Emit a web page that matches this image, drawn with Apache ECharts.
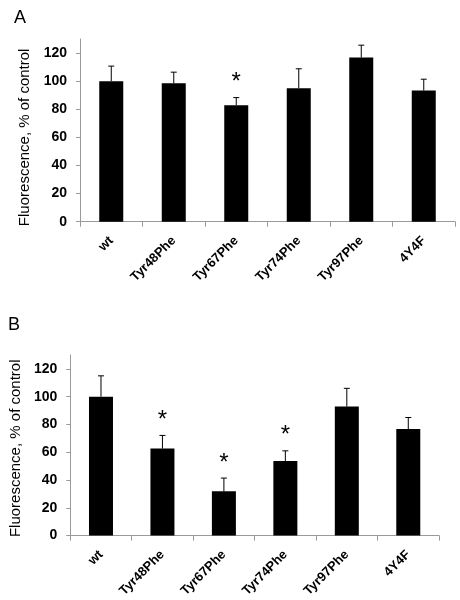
<!DOCTYPE html>
<html>
<head>
<meta charset="utf-8">
<script src="https://cdn.jsdelivr.net/npm/echarts@6/dist/echarts.min.js"></script>
<style>
html,body{margin:0;padding:0;background:#fff;}
#chart{width:460px;height:600px;}
</style>
</head>
<body>
<div id="chart"></div>
<script>
const categories = ['wt', 'Tyr48Phe', 'Tyr67Phe', 'Tyr74Phe', 'Tyr97Phe', '4Y4F'];
const valuesA = [100, 98.6, 82.9, 95, 116.8, 93.3];
const errorsA = [10.7, 7.8, 5.4, 13.8, 8.8, 8.1];
const starsA = [0, 0, 1, 0, 0, 0];
const valuesB = [100, 62.6, 31.9, 53.6, 92.9, 76.7];
const errorsB = [15, 9.5, 9.5, 7.4, 13.1, 8.3];
const starsB = [0, 1, 1, 1, 0, 0];
const yTicks = [0, 20, 40, 60, 80, 100, 120];
const panelLabels = ['A', 'B'];
const yAxisName = 'Fluorescence, % of control';

const FONT = 'Liberation Sans, Arial, sans-serif';
const AXIS_COLOR = '#9a9a9a';

function makeX(gridIndex) {
  return {
    type: 'category', gridIndex, data: categories,
    axisLine: {lineStyle: {color: AXIS_COLOR, width: 1}},
    axisTick: {show: true, length: 5, alignWithLabel: false, lineStyle: {color: AXIS_COLOR}},
    axisLabel: {interval: 0, rotate: 45, margin: 17, color: '#000', fontWeight: 'bold', fontSize: 13, fontFamily: FONT},
    splitLine: {show: false}
  };
}
function makeY(gridIndex, pad) {
  return {
    type: 'value', gridIndex, min: 0, max: 130, interval: 10,
    name: yAxisName, nameLocation: 'middle', nameGap: 45,
    nameTextStyle: {fontSize: 15, color: '#000', fontFamily: FONT, padding: [0, pad, 0, 0]},
    axisLine: {show: true, lineStyle: {color: AXIS_COLOR, width: 1}},
    axisTick: {show: true, length: 4, customValues: yTicks, lineStyle: {color: AXIS_COLOR}},
    axisLabel: {customValues: yTicks, margin: 13, color: '#000', fontWeight: 'bold', fontSize: 14, fontFamily: FONT},
    splitLine: {show: false}
  };
}
function errData(vals, errs, stars) {
  return categories.map((c, i) => [i, vals[i], errs[i], stars[i]]);
}
function errRender(params, api) {
  const x = api.value(0), v = api.value(1), e = api.value(2), s = api.value(3);
  const base = api.coord([x, v]);
  const top = api.coord([x, v + e]);
  const children = [
    {type: 'line', shape: {x1: base[0], y1: base[1], x2: top[0], y2: top[1]}, style: {stroke: '#000', lineWidth: 1}},
    {type: 'line', shape: {x1: top[0] - 3, y1: top[1], x2: top[0] + 3, y2: top[1]}, style: {stroke: '#000', lineWidth: 1}}
  ];
  if (s) {
    children.push({type: 'text', x: top[0], y: top[1] - 15,
      style: {text: '*', fontSize: 24, fontFamily: FONT, fill: '#000', align: 'center', verticalAlign: 'middle'}});
  }
  return {type: 'group', children};
}

const chart = echarts.init(document.getElementById('chart'), null, {renderer: 'canvas'});
chart.setOption({
  animation: false,
  backgroundColor: '#fff',
  title: [
    {text: panelLabels[0], left: 9, top: 4, textStyle: {fontSize: 18, fontWeight: 'normal', color: '#000', fontFamily: FONT}},
    {text: panelLabels[1], left: 3, top: 311, textStyle: {fontSize: 18, fontWeight: 'normal', color: '#000', fontFamily: FONT}}
  ],
  grid: [
    {left: 80, right: 5, top: 39, height: 182.7, containLabel: false},
    {left: 67, right: 21, top: 355, height: 181.7, containLabel: false}
  ],
  xAxis: [makeX(0), makeX(1)],
  yAxis: [makeY(0, 14), makeY(1, 6)],
  series: [
    {type: 'bar', xAxisIndex: 0, yAxisIndex: 0, data: valuesA, barWidth: 24, itemStyle: {color: '#000'}},
    {type: 'custom', xAxisIndex: 0, yAxisIndex: 0, data: errData(valuesA, errorsA, starsA), renderItem: errRender, encode: {x: 0, y: 1}, z: 3},
    {type: 'bar', xAxisIndex: 1, yAxisIndex: 1, data: valuesB, barWidth: 24, itemStyle: {color: '#000'}},
    {type: 'custom', xAxisIndex: 1, yAxisIndex: 1, data: errData(valuesB, errorsB, starsB), renderItem: errRender, encode: {x: 0, y: 1}, z: 3}
  ]
});
</script>
</body>
</html>
